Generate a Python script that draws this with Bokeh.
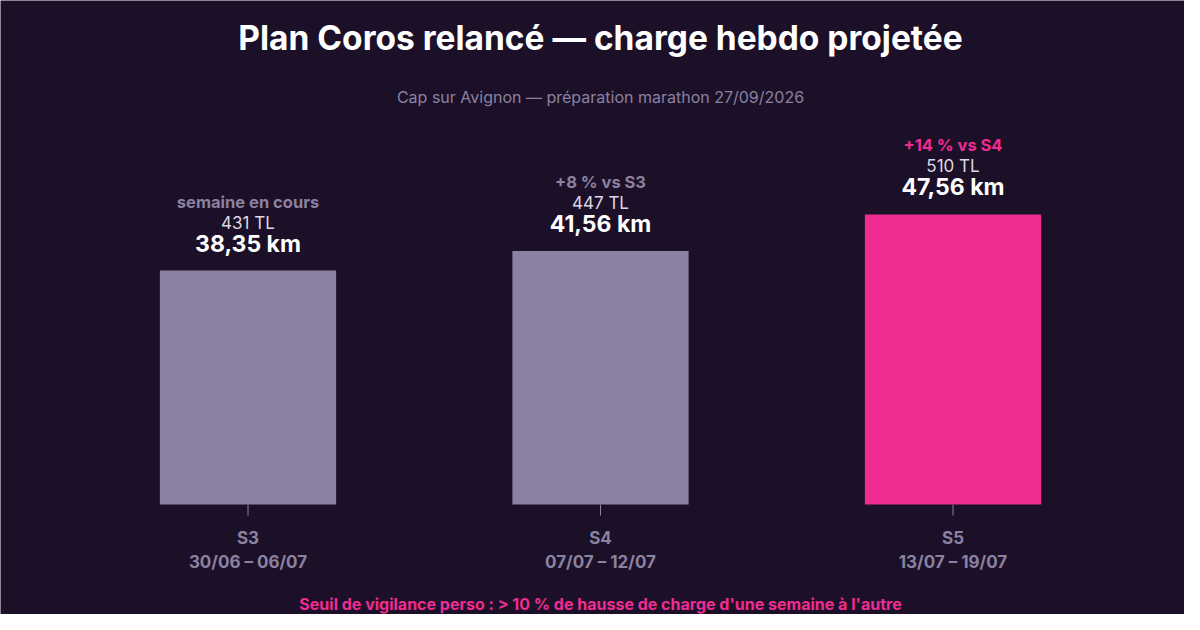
from bokeh.plotting import figure
from bokeh.models import ColumnDataSource, Range1d
from bokeh.core.properties import value
from bokeh.embed import file_html
from bokeh.resources import INLINE

# ---- data ----
weeks = ["S3", "S4", "S5"]
dates = ["30/06 – 06/07", "07/07 – 12/07", "13/07 – 19/07"]
km = [38.35, 41.56, 47.56]
load_tl = [431, 447, 510]
notes = ["semaine en cours", "+8 % vs S3", "+14 % vs S4"]

title_txt = "Plan Coros relancé — charge hebdo projetée"
subtitle_txt = "Cap sur Avignon — préparation marathon 27/09/2026"
footer_txt = "Seuil de vigilance perso : > 10 % de hausse de charge d'une semaine à l'autre"

# ---- style ----
BG = "#1c1029"
GREY = "#8b81a0"
PINK = "#f02b91"
bar_colors = [GREY, GREY, PINK]
note_colors = [GREY, GREY, PINK]
FONT = "Inter"

W, H = 1184, 614
PX_X = 352.5      # pixels per category slot
PX_Y = 6.1        # pixels per km
CX = 600          # pixel position of the middle category
BASE = 504        # pixel position of the bars' baseline

pos = list(range(len(weeks)))
p = figure(width=W, height=H,
           x_range=Range1d(1 - CX / PX_X, 1 + (W - CX) / PX_X),
           y_range=Range1d(-(H - BASE) / PX_Y, BASE / PX_Y),
           output_backend="svg", toolbar_location=None,
           min_border=0)
p.background_fill_color = BG
p.border_fill_color = BG
p.outline_line_color = None
p.grid.visible = False
p.axis.visible = False

src = ColumnDataSource(dict(
    x=pos, week=weeks, date=dates, km=km, zero=[0] * len(km),
    tick_end=[-11 / PX_Y] * len(km),
    color=bar_colors, note_color=note_colors, note=notes,
    tl=[f"{v} TL" for v in load_tl],
    kml=[f"{v:.2f}".replace(".", ",") + " km" for v in km],
))

p.vbar(x="x", top="km", bottom="zero", width=0.5, color="color", source=src, line_color=None)

# value labels above bars
p.text(x="x", y="km", text="kml", source=src, y_offset=-27,
       text_align="center", text_baseline="middle", text_color="#ffffff",
       text_font=value(FONT), text_font_style="bold", text_font_size="23px")
p.text(x="x", y="km", text="tl", source=src, y_offset=-48,
       text_align="center", text_baseline="middle", text_color="#dcd8e4",
       text_font=value(FONT), text_font_size="17px")
p.text(x="x", y="km", text="note", source=src, y_offset=-69,
       text_align="center", text_baseline="middle", text_color="note_color",
       text_font=value(FONT), text_font_style="bold", text_font_size="16.5px")

# category axis: ticks and two-line labels
p.segment(x0="x", y0="zero", x1="x", y1="tick_end", source=src, line_color=GREY, line_width=1)
p.text(x="x", y="zero", text="week", source=src, y_offset=33,
       text_align="center", text_baseline="middle", text_color=GREY,
       text_font=value(FONT), text_font_style="bold", text_font_size="17px")
p.text(x="x", y="zero", text="date", source=src, y_offset=57,
       text_align="center", text_baseline="middle", text_color=GREY,
       text_font=value(FONT), text_font_style="bold", text_font_size="17px")

# title, subtitle, footer
hdr = ColumnDataSource(dict(x=[1], y=[0], t=[title_txt], s=[subtitle_txt], f=[footer_txt]))
p.text(x="x", y="y", text="t", source=hdr, y_offset=-467,
       text_align="center", text_baseline="middle", text_color="#ffffff",
       text_font=value(FONT), text_font_style="bold", text_font_size="33.5px")
p.text(x="x", y="y", text="s", source=hdr, y_offset=-408,
       text_align="center", text_baseline="middle", text_color=GREY,
       text_font=value(FONT), text_font_size="16px")
p.text(x="x", y="y", text="f", source=hdr, y_offset=99,
       text_align="center", text_baseline="middle", text_color=PINK,
       text_font=value(FONT), text_font_style="bold", text_font_size="16px")

open("out.html", "w").write(file_html(p, INLINE))
